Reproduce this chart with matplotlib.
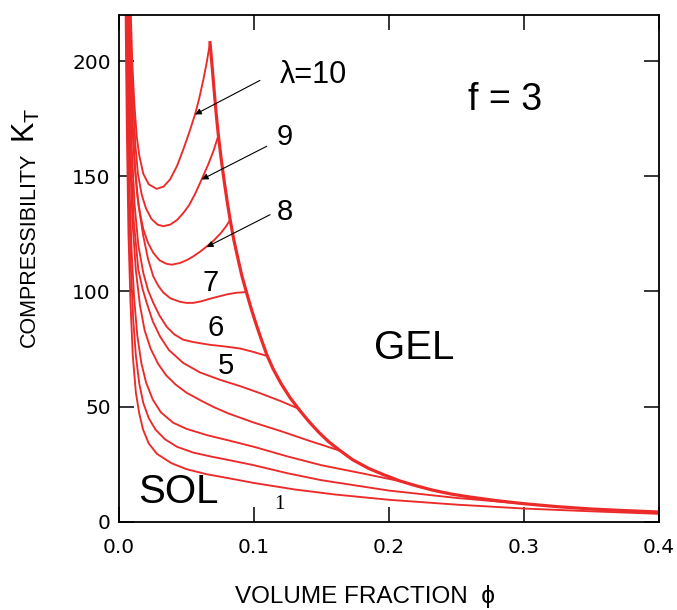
import matplotlib
matplotlib.use("Agg")
import matplotlib.pyplot as plt

# compressibility K_T vs volume fraction phi, f = 3, one curve per lambda
# values
phi_1 = [0.0048, 0.0058, 0.0070, 0.0085, 0.0102, 0.0125, 0.0150, 0.0178, 0.0220, 0.0280, 0.0388,
         0.0500, 0.0650, 0.0810, 0.1000, 0.1300, 0.1600, 0.2000, 0.2500, 0.3000, 0.3500, 0.4000]
K_1 = [225, 170, 125, 95, 72, 56, 47, 40, 34, 29.5, 25.4,
       22.8, 20.6, 18.9, 16.8, 14, 11.8, 9.5, 7.4, 5.7, 4.5, 3.4]

phi_2 = [0.0052, 0.0062, 0.0074, 0.0088, 0.0105, 0.0125, 0.0150, 0.0180, 0.0220, 0.0270, 0.0340,
         0.0430, 0.0550, 0.0680, 0.0810, 0.1000, 0.1250, 0.1500, 0.2000, 0.2500, 0.3000]
K_2 = [225, 175, 138, 110, 88, 72, 60, 51.5, 45, 40, 35.8,
       32.5, 30, 28.3, 26.8, 24.5, 21, 18, 13.5, 10.3, 7.8]

phi_3 = [0.0056, 0.0066, 0.0078, 0.0093, 0.0112, 0.0135, 0.0165, 0.0200, 0.0250, 0.0310,
         0.0400, 0.0500, 0.0650, 0.0810, 0.1000, 0.1250, 0.1500, 0.1800, 0.2080]
K_3 = [225, 180, 145, 118, 97, 81, 69, 60.5, 53, 47.5,
       43, 40.3, 37.6, 35.3, 32.5, 28.3, 24.5, 21, 17.6]

phi_4 = [0.0060, 0.0070, 0.0083, 0.0100, 0.0125, 0.0155, 0.0190, 0.0235, 0.0290, 0.0350,
         0.0420, 0.0500, 0.0600, 0.0700, 0.0810, 0.1000, 0.1200, 0.1400, 0.1632]
K_4 = [225, 188, 156, 130, 109, 94, 83, 75, 68.5, 63.5,
       59.5, 56, 52.8, 49.8, 47, 43, 39.3, 35.3, 30.9]

phi_5 = [0.0064, 0.0075, 0.0090, 0.0110, 0.0143, 0.0175, 0.0205, 0.0250, 0.0304, 0.0370,
         0.0476, 0.0600, 0.0748, 0.0900, 0.1044, 0.1200, 0.1336]
K_5 = [225, 185, 155, 130, 109.4, 101, 95, 87, 80.4, 74.5,
       68.9, 64.8, 61.6, 58.8, 55.8, 52.3, 48.9]

phi_6 = [0.0068, 0.0080, 0.0095, 0.0115, 0.0143, 0.0180, 0.0215, 0.0254, 0.0300, 0.0355,
         0.0410, 0.0476, 0.0550, 0.0620, 0.0674, 0.0750, 0.0820, 0.0896, 0.0990, 0.1094]
K_6 = [225, 190, 162, 138, 120, 108, 100.5, 95, 89.5, 84.5,
       81.3, 79, 78, 77.3, 76.8, 76.3, 75.8, 75.2, 73.8, 72]

phi_7 = [0.0072, 0.0084, 0.0098, 0.0119, 0.0143, 0.0180, 0.0215, 0.0254, 0.0290, 0.0328,
         0.0380, 0.0450, 0.0500, 0.0550, 0.0610, 0.0674, 0.0740, 0.0800, 0.0870, 0.0946]
K_7 = [225, 195, 172, 153, 138, 124, 114, 106.5, 102.5, 99.5,
       97, 95.5, 95, 95, 95.7, 96.8, 97.8, 98.7, 99.4, 99.7]

phi_8 = [0.0076, 0.0088, 0.0102, 0.0118, 0.0135, 0.0155, 0.0180, 0.0215, 0.0254, 0.0300, 0.0350,
         0.0390, 0.0450, 0.0500, 0.0550, 0.0600, 0.0650, 0.0700, 0.0750, 0.0790, 0.0822]
K_8 = [225, 196, 172, 154, 142, 134, 127, 121, 116.7, 113.5, 112,
       111.6, 112.3, 113.5, 115.2, 117.2, 119.5, 122, 125, 128, 130.9]

phi_9 = [0.0080, 0.0092, 0.0106, 0.0122, 0.0140, 0.0168, 0.0200, 0.0240, 0.0285, 0.0328,
         0.0380, 0.0430, 0.0476, 0.0520, 0.0565, 0.0612, 0.0660, 0.0700, 0.0736]
K_9 = [225, 200, 180, 163, 151, 142, 136, 131.5, 129, 128.3,
       129, 131, 134, 137.5, 142.5, 148.6, 155, 161, 167.7]

phi_10 = [0.0085, 0.0098, 0.0113, 0.0131, 0.0150, 0.0180, 0.0220, 0.0279, 0.0330, 0.0378,
          0.0430, 0.0476, 0.0520, 0.0563, 0.0595, 0.0625, 0.0650, 0.0674]
K_10 = [225, 200, 182, 167.4, 159, 151, 146.5, 144.5, 145.5, 148.6,
        154.5, 161.6, 169, 176.8, 184, 192, 199.5, 208]

# sol-gel boundary (gel points of each lambda curve)
phi_gel = [0.0674, 0.0690, 0.0705, 0.0720, 0.0736, 0.0758, 0.0780, 0.0800, 0.0822, 0.0850,
           0.0880, 0.0910, 0.0946, 0.0980, 0.1020, 0.1055, 0.1094, 0.1140, 0.1200, 0.1265,
           0.1336, 0.1405, 0.1480, 0.1555, 0.1632, 0.1730, 0.1850, 0.1960, 0.2080, 0.2200,
           0.2330, 0.2460, 0.2600, 0.2800, 0.3000, 0.3250, 0.3500, 0.3750, 0.4000]
K_gel = [208, 197.5, 187, 177, 167.7, 157, 147.5, 139.5, 131.5, 122.5,
         114.5, 106.8, 99.2, 92.3, 85, 79, 72.6, 66.5, 60, 54,
         48.5, 43.6, 38.8, 34.6, 31.1, 26.9, 23.1, 20.4, 17.7, 15.6,
         13.6, 12, 10.7, 9.1, 7.8, 6.5, 5.5, 4.8, 4.2]

RED = "#ec2a2a"

curves = [(phi_1, K_1), (phi_2, K_2), (phi_3, K_3), (phi_4, K_4), (phi_5, K_5),
          (phi_6, K_6), (phi_7, K_7), (phi_8, K_8), (phi_9, K_9), (phi_10, K_10)]

fig = plt.figure(figsize=(6.77, 6.10), dpi=100)
ax = fig.add_axes([0.1758, 0.1448, 0.7976, 0.8306])

for phi, K in curves:
    ax.plot(phi, K, color=RED, linewidth=1.35, solid_joinstyle="round")
ax.plot(phi_gel, K_gel, color=RED, linewidth=2.3, solid_joinstyle="round")

ax.set_xlim(0, 0.4)
ax.set_ylim(0, 220)
ax.set_xticks([0.0, 0.1, 0.2, 0.3, 0.4])
ax.set_yticks([0, 50, 100, 150, 200])
ax.set_xticklabels(["0.0", "0.1", "0.2", "0.3", "0.4"])
ax.tick_params(direction="in", length=10.5, width=1.1, top=True, right=True,
               labelsize=14.5, colors="black")
ax.tick_params(axis="x", pad=12)
ax.tick_params(axis="y", pad=6)
for s in ax.spines.values():
    s.set_linewidth(1.3)

# curve labels
sans = "Liberation Sans"
ax.text(0.1437, 194, "λ=10", fontsize=22, family=sans, ha="center", va="center")
for txt, x, y in [("9", 0.123, 167), ("8", 0.123, 134.6), ("7", 0.068, 103.8),
                  ("6", 0.0719, 84.2), ("5", 0.0793, 67.7)]:
    ax.text(x, y, txt, fontsize=21, family=sans, ha="center", va="center")
ax.text(0.119, 7.3, "1", fontsize=15, family="Liberation Serif", ha="center", va="center")

arrow = dict(arrowstyle="-|>", color="black", lw=0.8, mutation_scale=9, shrinkA=0, shrinkB=0)
ax.annotate("", xy=(0.0563, 176.8), xytext=(0.1044, 191.6), arrowprops=arrow)
ax.annotate("", xy=(0.0613, 148.6), xytext=(0.1094, 163), arrowprops=arrow)
ax.annotate("", xy=(0.0650, 119.3), xytext=(0.1119, 133.3), arrowprops=arrow)

ax.text(0.286, 183.3, "f = 3", fontsize=27, family=sans, ha="center", va="center")
ax.text(0.219, 75.5, "GEL", fontsize=29, family=sans, ha="center", va="center")
ax.text(0.0437, 12.9, "SOL", fontsize=29, family=sans, ha="center", va="center")

# axis titles
fig.text(35 / 677, 1 - 347 / 610, "COMPRESSIBILITY", fontsize=15.5, family=sans,
         rotation=90, rotation_mode="anchor", ha="left", va="baseline")
fig.text(35 / 677, 1 - 143 / 610, r"$\mathregular{K_T}$", fontsize=22, family=sans,
         rotation=90, rotation_mode="anchor", ha="left", va="baseline")
fig.text(365 / 677, 1 - 597 / 610, "VOLUME FRACTION  ϕ", fontsize=17.5, family=sans,
         ha="center", va="center")

fig.savefig("out.png", dpi=100)
